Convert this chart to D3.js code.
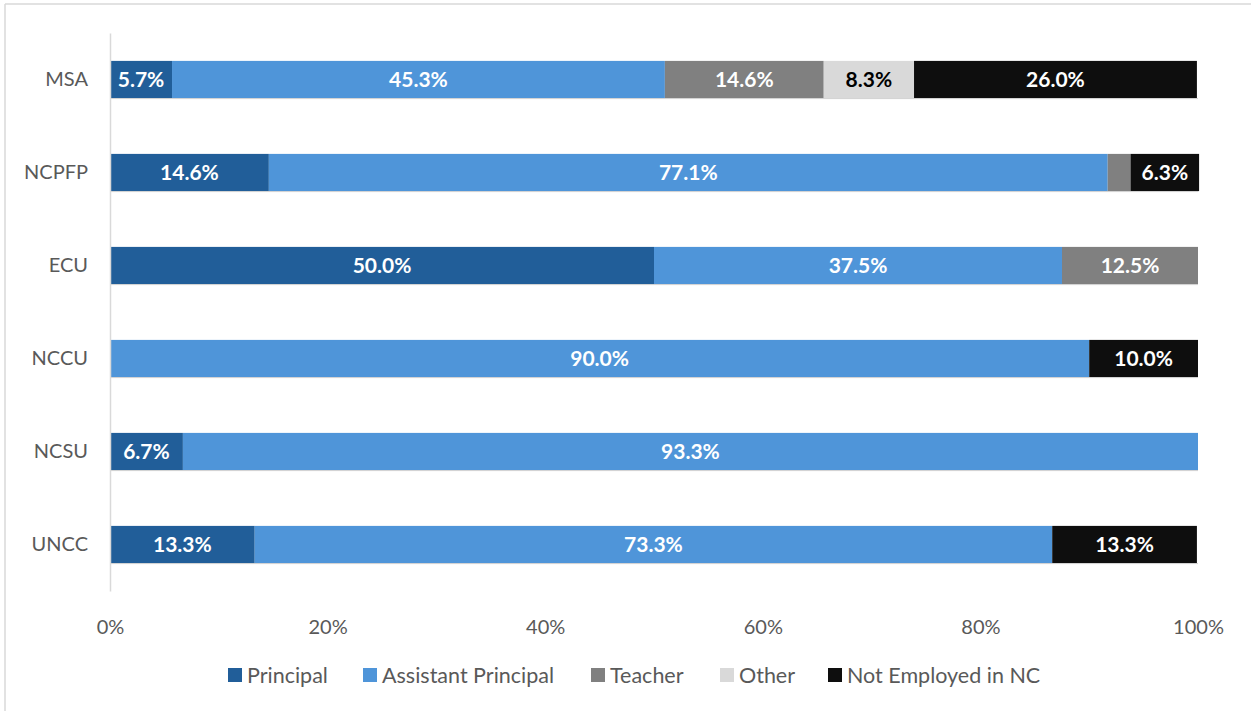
<!DOCTYPE html>
<html>
<head>
<meta charset="utf-8">
<script src="https://cdn.jsdelivr.net/npm/d3@7"></script>
<style>
body { margin: 0; background: #fff; }
text { font-family: Lato, "Open Sans", sans-serif; }
</style>
</head>
<body>
<div id="chart"></div>
<script>
var w = 1251;
var h = 711;

// programs, top to bottom
var programs = ["MSA", "NCPFP", "ECU", "NCCU", "NCSU", "UNCC"];
var roles = ["Principal", "Assistant Principal", "Teacher", "Other", "Not Employed in NC"];
var roleColors = ["#215e99", "#4f95d9", "#808080", "#d9d9d9", "#0e0e0e"];
var labelColors = ["#fff", "#fff", "#fff", "#000", "#fff"];

// percent in each role, per program
var principal = [5.7, 14.6, 50.0, 0, 6.7, 13.3];
var assistant = [45.3, 77.1, 37.5, 90.0, 93.3, 73.3];
var teacher   = [14.6, 2.1, 12.5, 0, 0, 0];
var other     = [8.3, 0, 0, 0, 0, 0];
var notNC     = [26.0, 6.3, 0, 10.0, 0, 13.3];
var showLabel = [
	[true, true, true, true, true],
	[true, true, false, false, true],
	[true, true, true, false, false],
	[false, true, false, false, true],
	[true, true, false, false, false],
	[true, true, false, false, true]
];

var xTicks = [0, 0.2, 0.4, 0.6, 0.8, 1];

function init(){
	var table = programs.map(function(p, i){
		return {
			program: p,
			values: [principal[i], assistant[i], teacher[i], other[i], notNC[i]]
		};
	});

	var stack = d3.stack()
		.keys(d3.range(roles.length))
		.value(function(d, k){ return d.values[k]; });
	var series = stack(table);

	var svg = d3.select("#chart")
		.append("svg")
		.attr("width", w)
		.attr("height", h);

	// chart frame
	svg.append("line")
		.attr("x1", 5).attr("y1", 4).attr("x2", w).attr("y2", 4)
		.attr("stroke", "#d9d9d9").attr("stroke-width", 1.5);
	svg.append("line")
		.attr("x1", 5).attr("y1", 4).attr("x2", 5).attr("y2", h)
		.attr("stroke", "#d9d9d9").attr("stroke-width", 1.5);

	var xScale = d3.scaleLinear()
		.domain([0, 100])
		.range([110, 1198]);

	var yScale = d3.scaleBand()
		.domain(programs)
		.range([33, 591])
		.paddingInner(0.6)
		.paddingOuter(0.3);

	// stacked bars
	var groups = svg.selectAll("g.role")
		.data(series)
		.enter()
		.append("g")
		.attr("class", "role")
		.attr("fill", function(d, i){ return roleColors[i]; });

	groups.selectAll("rect")
		.data(function(d){ return d; })
		.enter()
		.append("rect")
		.attr("x", function(d){ return xScale(d[0]); })
		.attr("y", function(d){ return yScale(d.data.program); })
		.attr("width", function(d){ return Math.max(0, xScale(d[1]) - xScale(d[0])); })
		.attr("height", yScale.bandwidth());

	// faint line under each bar
	svg.selectAll("line.under")
		.data(programs)
		.enter()
		.append("line")
		.attr("class", "under")
		.attr("x1", xScale(0))
		.attr("x2", xScale(100))
		.attr("y1", function(d){ return yScale(d) + yScale.bandwidth() + 0.5; })
		.attr("y2", function(d){ return yScale(d) + yScale.bandwidth() + 0.5; })
		.attr("stroke", "#d0d0d0")
		.attr("stroke-width", 1);

	// data labels
	series.forEach(function(s, k){
		svg.selectAll("text.lbl" + k)
			.data(s.filter(function(d, i){ return showLabel[i][k]; }))
			.enter()
			.append("text")
			.attr("class", "lbl" + k)
			.attr("x", function(d){ return (xScale(d[0]) + xScale(d[1])) / 2; })
			.attr("y", function(d){ return yScale(d.data.program) + yScale.bandwidth() / 2; })
			.attr("dy", "0.36em")
			.attr("text-anchor", "middle")
			.attr("font-size", "21px")
			.attr("font-weight", "bold")
			.attr("fill", labelColors[k])
			.text(function(d){ return (d[1] - d[0]).toFixed(1) + "%"; });
	});

	// y axis
	var yAxis = d3.axisLeft(yScale).tickSize(0).tickPadding(22);
	var gy = svg.append("g")
		.attr("transform", "translate(110, 0)")
		.call(yAxis);
	gy.select(".domain").attr("stroke", "#d9d9d9").attr("stroke-width", 1.5);
	gy.selectAll("text")
		.attr("font-family", "Lato, 'Open Sans', sans-serif")
		.attr("font-size", "20px")
		.attr("fill", "#595959");

	// x axis (labels only)
	var xAxis = d3.axisBottom(d3.scaleLinear().domain([0, 1]).range([110, 1198]))
		.tickValues(xTicks)
		.tickFormat(d3.format(".0%"))
		.tickSize(0)
		.tickPadding(20);
	var gx = svg.append("g")
		.attr("transform", "translate(0, 600)")
		.call(xAxis);
	gx.select(".domain").remove();
	gx.selectAll("text")
		.attr("font-family", "Lato, 'Open Sans', sans-serif")
		.attr("font-size", "20px")
		.attr("fill", "#595959");

	// legend
	var legendX = [228, 363, 591, 720, 828];
	var legend = svg.selectAll("g.legend")
		.data(roles)
		.enter()
		.append("g")
		.attr("class", "legend")
		.attr("transform", function(d, i){ return "translate(" + legendX[i] + ", 675)"; });
	legend.append("rect")
		.attr("x", 0).attr("y", -7)
		.attr("width", 14).attr("height", 14)
		.attr("fill", function(d, i){ return roleColors[i]; });
	legend.append("text")
		.attr("x", 19)
		.attr("dy", "0.35em")
		.attr("font-size", "21.5px")
		.attr("fill", "#595959")
		.text(function(d){ return d; });
}

window.onload = init;
</script>
</body>
</html>
